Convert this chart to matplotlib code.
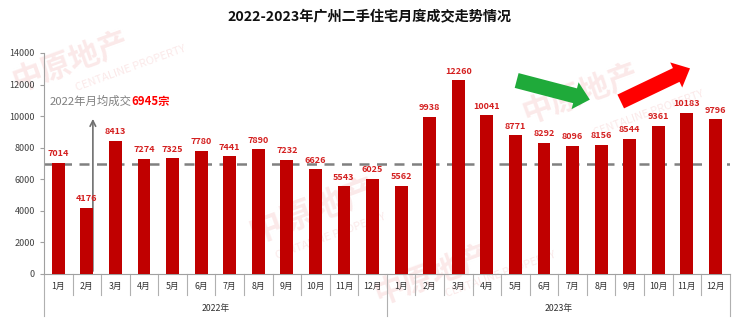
import matplotlib.pyplot as plt
import matplotlib.transforms as mtransforms

plt.rcParams['font.family'] = ['Noto Sans CJK SC', 'DejaVu Sans']

# monthly second-hand home transactions, Guangzhou
months = [f'{m}月' for m in range(1, 13)] * 2
years = ['2022年', '2023年']
deals_2022 = [7014, 4176, 8413, 7274, 7325, 7780, 7441, 7890, 7232, 6626, 5543, 6025]
deals_2023 = [5562, 9938, 12260, 10041, 8771, 8292, 8096, 8156, 8544, 9361, 10183, 9796]
avg_2022 = 6945

values = deals_2022 + deals_2023
x = list(range(len(values)))

bar_red = '#c00000'
fig = plt.figure(figsize=(7.4, 3.23), dpi=100)
ax = fig.add_axes([0.0595, 0.152, 0.9265, 0.684])
ax.set_zorder(1)
ax.set_facecolor('none')

# faint company watermark in the background
wm_color = '#fbe9e9'
for (wx, wy, fs) in [(0.01, 0.72, 22), (0.33, 0.25, 24), (0.50, 0.06, 22), (0.70, 0.62, 22)]:
    fig.text(wx, wy, '中原地产', fontsize=fs, color=wm_color, fontweight='bold',
             rotation=20, zorder=-1)
for (wx, wy) in [(0.10, 0.72), (0.37, 0.20), (0.60, 0.08), (0.80, 0.58)]:
    fig.text(wx, wy, 'CENTALINE PROPERTY', fontsize=8, color=wm_color,
             rotation=20, zorder=-1)

ax.bar(x, values, width=0.45, color=bar_red, zorder=3)
for xi, v in zip(x, values):
    ax.text(xi, v + 300, str(v), ha='center', va='bottom', fontsize=6.5,
            color='#d42020', fontweight='bold', zorder=4)

ax.axhline(avg_2022, color='#808080', linestyle=(0, (4, 3)), linewidth=1.8, zorder=2)

ax.set_xlim(-0.5, len(values) - 0.5)
ax.set_ylim(0, 14000)
ax.set_yticks(range(0, 14001, 2000))
ax.tick_params(axis='y', labelsize=6.5, length=3, color='#a0a0a0', labelcolor='#404040')
ax.set_xticks([])

for side in ['top', 'right']:
    ax.spines[side].set_visible(False)
ax.spines['left'].set_color('#a0a0a0')
ax.spines['bottom'].set_color('#a0a0a0')

# two-level category axis: months and years
trans = mtransforms.blended_transform_factory(ax.transData, ax.transAxes)
for i in range(len(values) + 1):
    bottom = -0.19 if i % 12 == 0 else -0.095
    ax.plot([i - 0.5, i - 0.5], [0, bottom], color='#b0b0b0', linewidth=0.8,
            transform=trans, clip_on=False)
for xi, m in zip(x, months):
    ax.text(xi, -0.055, m, ha='center', va='center', fontsize=6.3,
            color='#303030', transform=trans)
for k, yr in enumerate(years):
    ax.text(k * 12 + 5.5, -0.155, yr, ha='center', va='center', fontsize=6.3,
            color='#303030', transform=trans)

# average annotation
ax.annotate('', xy=(1.21, 10000), xytext=(1.21, 0),
            arrowprops=dict(arrowstyle='->', color='#707070', lw=1.2), zorder=2)
t1 = ax.text(-0.3, 10950, '2022年月均成交', fontsize=8.2, color='#808080',
             va='center', ha='left', zorder=5)
fig.canvas.draw()
ax.annotate('6945宗', xycoords=t1, xy=(1, 0.5), va='center', ha='left',
            fontsize=8.2, color='#ff0000', fontweight='bold', zorder=5)

# trend arrows
arrow_style = 'simple,head_width=2.0,head_length=1.1,tail_width=1.1'
ax.annotate('', xy=(18.7, 11000), xytext=(15.95, 12300),
            arrowprops=dict(arrowstyle=arrow_style, color='#1faa3a', lw=0), zorder=5)
ax.annotate('', xy=(22.2, 13100), xytext=(19.6, 10850),
            arrowprops=dict(arrowstyle=arrow_style, color='#ff0000', lw=0), zorder=5)

fig.text(0.5, 0.947, '2022-2023年广州二手住宅月度成交走势情况', ha='center', va='center',
         fontsize=10.2, fontweight='bold', color='#111111')

fig.savefig('out.png', dpi=100)
